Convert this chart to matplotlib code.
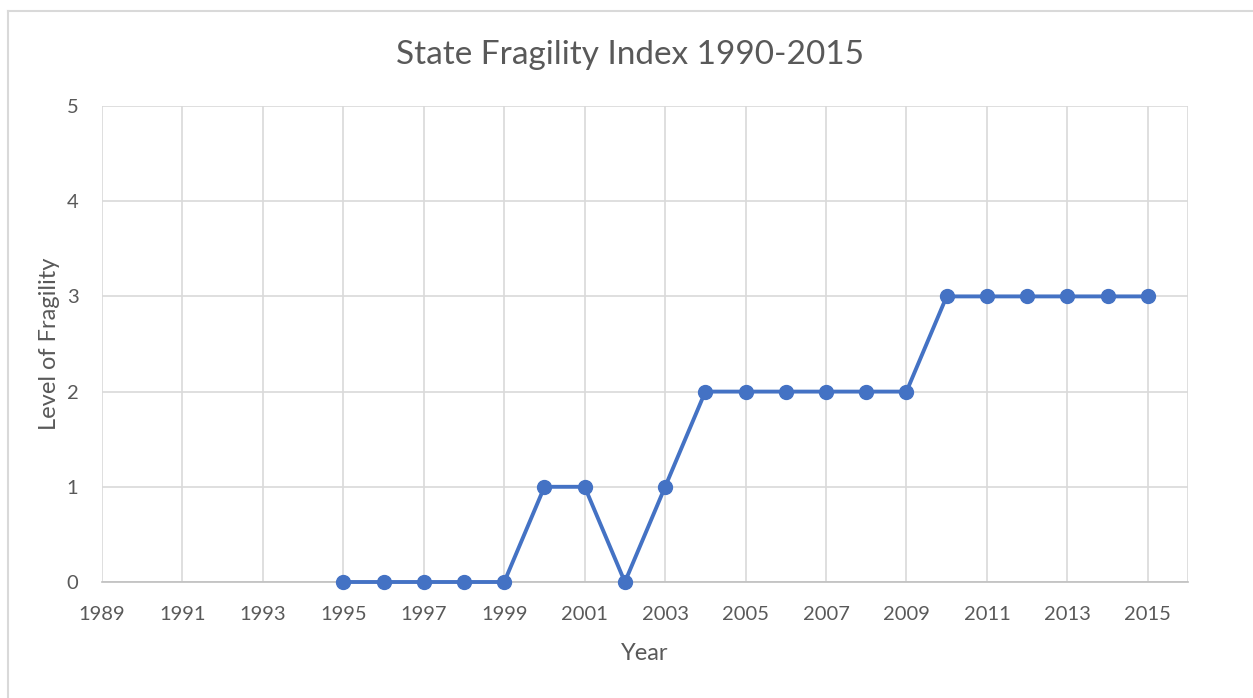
import matplotlib
matplotlib.use("Agg")
import matplotlib.pyplot as plt
from matplotlib.lines import Line2D

years = [1995, 1996, 1997, 1998, 1999, 2000, 2001, 2002, 2003, 2004, 2005, 2006,
         2007, 2008, 2009, 2010, 2011, 2012, 2013, 2014, 2015]
fragility = [0, 0, 0, 0, 0, 1, 1, 0, 1, 2, 2, 2, 2, 2, 2, 3, 3, 3, 3, 3, 3]
x_ticks = list(range(1989, 2016, 2))
y_ticks = [0, 1, 2, 3, 4, 5]

plt.rcParams['font.family'] = ['Lato', 'DejaVu Sans']
txt = '#595959'
grid = '#d9d9d9'

W, H = 1253, 698
fig = plt.figure(figsize=(W / 100, H / 100), dpi=100)
ax = fig.add_axes([102 / W, 1 - 582 / H, (1188 - 102) / W, (582 - 106) / H])

ax.plot(years, fragility, color='#4472C4', lw=2.8, marker='o', ms=10,
        zorder=3, clip_on=False)
ax.set_xlim(1989, 2016)
ax.set_ylim(0, 5)
ax.set_xticks(x_ticks)
ax.set_yticks(y_ticks)
ax.tick_params(length=0, labelsize=14.5, colors=txt, pad=17)
ax.tick_params(axis='y', pad=17)
for s in ['top', 'right', 'left']:
    ax.spines[s].set_visible(False)
ax.spines['bottom'].set_color('#bfbfbf')
ax.spines['bottom'].set_linewidth(1.2)
ax.grid(True, color=grid, lw=1.2, zorder=0)
ax.axvline(2016, color=grid, lw=1.2, zorder=0)
ax.set_axisbelow(True)

ax.set_xlabel('Year', fontsize=17, color=txt, labelpad=15)
ax.set_ylabel('Level of Fragility', fontsize=17, color=txt, labelpad=5)
fig.text(630 / W, 1 - 55 / H, 'State Fragility Index 1990-2015',
         ha='center', va='center', fontsize=24, color=txt)

# outer chart border (left and top visible)
fig.add_artist(Line2D([7.5 / W, 7.5 / W], [0, 1 - 11 / H], transform=fig.transFigure,
                      color=grid, lw=1.5))
fig.add_artist(Line2D([7.5 / W, 1], [1 - 11 / H, 1 - 11 / H], transform=fig.transFigure,
                      color=grid, lw=1.5))

fig.savefig('out.png', dpi=100)
